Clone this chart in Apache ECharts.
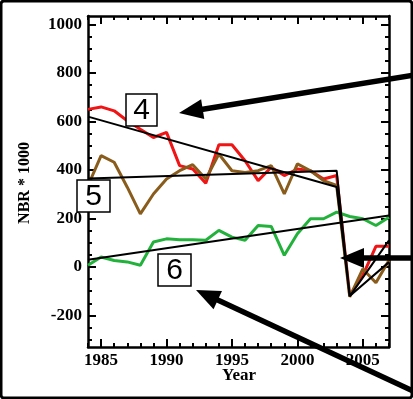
<!DOCTYPE html>
<html>
<head>
<meta charset="utf-8">
<script src="https://cdn.jsdelivr.net/npm/echarts@6/dist/echarts.min.js"></script>
<style>
  html, body { margin: 0; padding: 0; background: #fff; }
  #chart { width: 413px; height: 399px; }
</style>
</head>
<body>
<div id="chart"></div>
<script>
  // values (NBR * 1000)
  const years = [1984, 1985, 1986, 1987, 1988, 1989, 1990, 1991, 1992, 1993, 1994, 1995,
    1996, 1997, 1998, 1999, 2000, 2001, 2002, 2003, 2004, 2005, 2006, 2007];
  const redVals = [650, 660, 644, 603, 568, 534, 555, 418, 404, 345, 504, 504,
    438, 356, 411, 377, 404, 397, 363, 377, -118, -35, 85, 85];
  const greenVals = [7, 41, 27, 21, 7, 103, 116, 112, 112, 110, 151, 123,
    110, 171, 167, 48, 137, 199, 199, 226, 208, 199, 171, 205];
  const brownVals = [335, 459, 432, 329, 219, 301, 363, 397, 422, 363, 466, 397,
    390, 397, 418, 301, 425, 397, 356, 336, -123, -8, -65, 28];

  // fitted segments
  const fitYears = [1984, 2003, 2004, 2007];
  const fit4Vals = [620, 330, -120, 110];
  const fit5Vals = [365, 397, -120, 20];
  const fit6Years = [1984, 2007];
  const fit6Vals = [30, 212];

  const xMajor = [1985, 1990, 1995, 2000, 2005];
  const yMajor = [-200, 0, 200, 400, 600, 800, 1000];
  const yMinor = [];
  for (let v = -300; v <= 1000; v += 50) yMinor.push(v);

  const pair = (xs, ys) => xs.map((x, i) => [x, ys[i]]);

  const serif = "'Liberation Serif', 'DejaVu Serif', serif";
  const plain = (v) => String(v);

  const xBase = { type: "value", min: 1984, max: 2007, splitLine: { show: false } };
  const yBase = { type: "value", min: -330, max: 1035, splitLine: { show: false } };
  const lineStyle = { color: "#000", width: 2.5 };
  const tickStyle = { color: "#000", width: 2 };

  const xAxes = [
    Object.assign({}, xBase, {
      position: "bottom",
      axisLine: { show: true, onZero: false, lineStyle },
      axisTick: { show: true, inside: true, length: 8, customValues: xMajor, lineStyle: tickStyle },
      axisLabel: { customValues: xMajor, formatter: plain, margin: 5, color: "#000", fontFamily: serif, fontWeight: "bold", fontSize: 17 },
    }),
    Object.assign({}, xBase, {
      position: "bottom", interval: 1,
      axisLine: { show: false, onZero: false },
      axisTick: { show: true, inside: true, length: 4, lineStyle: tickStyle },
      axisLabel: { show: false },
    }),
    Object.assign({}, xBase, {
      position: "top",
      axisLine: { show: true, onZero: false, lineStyle },
      axisTick: { show: true, inside: true, length: 8, customValues: xMajor, lineStyle: tickStyle },
      axisLabel: { show: false },
    }),
    Object.assign({}, xBase, {
      position: "top", interval: 1,
      axisLine: { show: false, onZero: false },
      axisTick: { show: true, inside: true, length: 4, lineStyle: tickStyle },
      axisLabel: { show: false },
    }),
  ];

  const yAxes = [
    Object.assign({}, yBase, {
      position: "left",
      axisLine: { show: true, onZero: false, lineStyle },
      axisTick: { show: true, inside: true, length: 8, customValues: yMajor, lineStyle: tickStyle },
      axisLabel: { customValues: yMajor, formatter: plain, margin: 6, color: "#000", fontFamily: serif, fontWeight: "bold", fontSize: 17 },
    }),
    Object.assign({}, yBase, {
      position: "left",
      axisLine: { show: false, onZero: false },
      axisTick: { show: true, inside: true, length: 4, customValues: yMinor, lineStyle: tickStyle },
      axisLabel: { show: false },
    }),
    Object.assign({}, yBase, {
      position: "right",
      axisLine: { show: true, onZero: false, lineStyle },
      axisTick: { show: true, inside: true, length: 8, customValues: yMajor, lineStyle: tickStyle },
      axisLabel: { show: false },
    }),
    Object.assign({}, yBase, {
      position: "right",
      axisLine: { show: false, onZero: false },
      axisTick: { show: true, inside: true, length: 4, customValues: yMinor, lineStyle: tickStyle },
      axisLabel: { show: false },
    }),
  ];

  const lineSeries = (data, color, width, z) => ({
    type: "line",
    data,
    symbol: "none",
    z,
    lineStyle: { color, width },
    animation: false,
  });

  function arrow(x1, y1, x2, y2) {
    const dx = x2 - x1, dy = y2 - y1;
    const len = Math.hypot(dx, dy);
    const ux = dx / len, uy = dy / len;
    const hl = 24, hw = 10;
    const bx = x2 - ux * hl, by = y2 - uy * hl;
    return [
      { type: "line", z: 100, shape: { x1, y1, x2: bx + ux * 3, y2: by + uy * 3 }, style: { stroke: "#000", lineWidth: 5.5 } },
      { type: "polygon", z: 100, shape: { points: [[x2, y2], [bx - uy * hw, by + ux * hw], [bx + uy * hw, by - ux * hw]] }, style: { fill: "#000" } },
    ];
  }

  function box(x, y, w, h, label) {
    return [
      { type: "rect", z: 90, shape: { x, y, width: w, height: h }, style: { fill: "#fff", stroke: "#000", lineWidth: 1.5 } },
      { type: "text", z: 91, x: x + w / 2, y: y + h / 2 + 1,
        style: { text: label, fill: "#000", font: "30px 'Liberation Sans', Arial, sans-serif", align: "center", verticalAlign: "middle" } },
    ];
  }

  const chart = echarts.init(document.getElementById("chart"));
  chart.setOption({
    animation: false,
    backgroundColor: "#fff",
    grid: { left: 88, top: 16, width: 301, height: 331, containLabel: false },
    xAxis: xAxes,
    yAxis: yAxes,
    series: [
      lineSeries(pair(years, redVals), "#f01414", 3, 2),
      lineSeries(pair(years, greenVals), "#22b23c", 3, 2),
      lineSeries(pair(years, brownVals), "#8a5c1c", 3, 3),
      lineSeries(pair(fitYears, fit4Vals), "#000", 2, 4),
      lineSeries(pair(fitYears, fit5Vals), "#000", 2, 4),
      lineSeries(pair(fit6Years, fit6Vals), "#000", 2, 4),
    ],
    graphic: [
      { type: "text", x: 25, y: 183, rotation: Math.PI / 2,
        style: { text: "NBR * 1000", fill: "#000", font: "bold 16px " + serif, align: "center", verticalAlign: "middle" } },
      { type: "text", x: 239, y: 376,
        style: { text: "Year", fill: "#000", font: "bold 17px " + serif, align: "center", verticalAlign: "middle" } },
      ...box(126, 94, 31, 32, "4"),
      ...box(77, 180, 33, 32, "5"),
      ...box(158, 254, 33, 32, "6"),
      ...arrow(415, 75, 179, 113),
      ...arrow(415, 258, 340, 258),
      ...arrow(415, 392, 196, 290),
      { type: "rect", z: 110, shape: { x: 1, y: 1, width: 411, height: 397, r: 3 },
        style: { fill: "none", stroke: "#000", lineWidth: 3 } },
    ],
  });
</script>
</body>
</html>
